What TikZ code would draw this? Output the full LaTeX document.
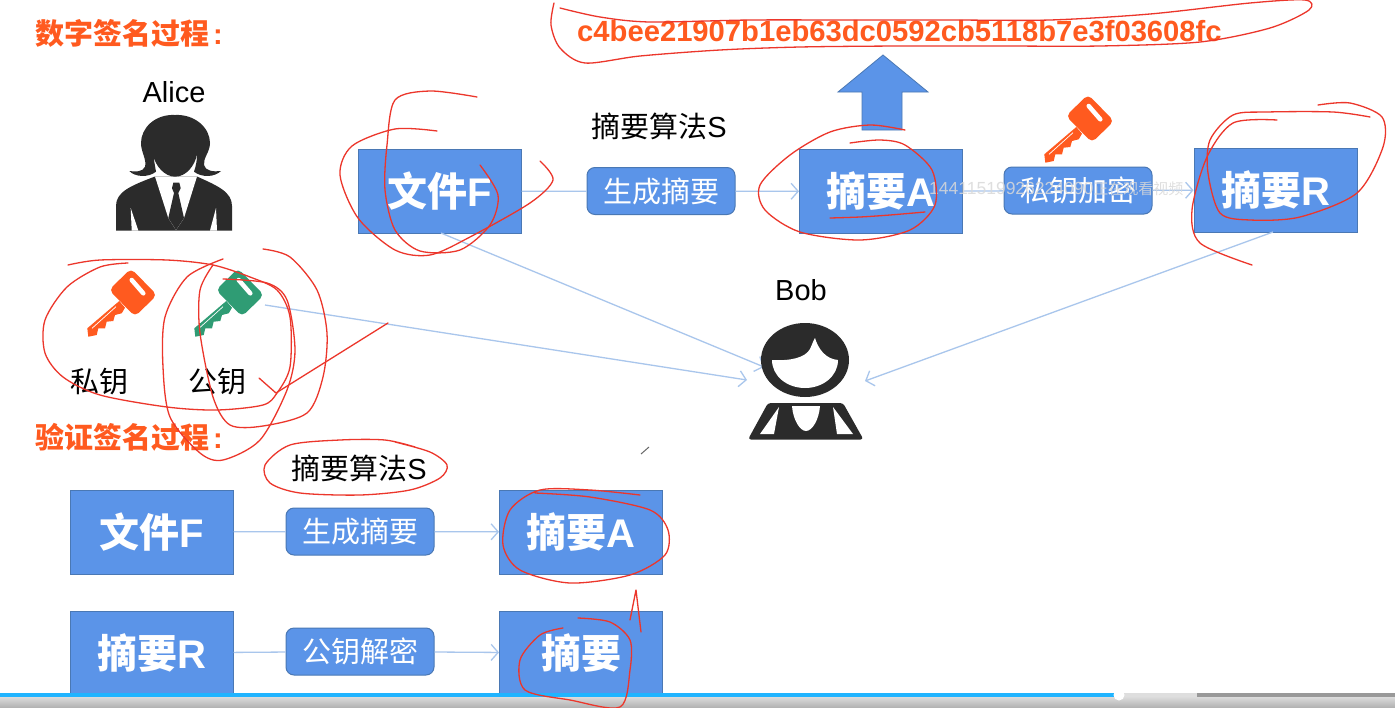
\documentclass[tikz,border=0pt]{standalone}
\usepackage{fontspec}
\setmainfont{Liberation Sans}
\newfontfamily\cjk{Noto Sans CJK SC}
\usetikzlibrary{arrows.meta,shapes.arrows}

\definecolor{boxblue}{HTML}{5B94E8}
\definecolor{boxline}{HTML}{4A78B4}
\definecolor{linkblue}{HTML}{A9C6EC}
\definecolor{titleorange}{HTML}{FF5A1F}
\definecolor{keygreen}{HTML}{2F9C74}
\definecolor{inkred}{HTML}{EC362B}
\definecolor{figure}{HTML}{2B2B2B}
\definecolor{barblue}{HTML}{20B4FF}

\tikzset{
  bigbox/.style={draw=boxline, line width=1pt, fill=boxblue, text=white, minimum width=163pt,
    minimum height=84pt, inner sep=0pt, font=\cjk\bfseries\fontsize{40}{40}\selectfont},
  stepbox/.style={draw=boxline, line width=1pt, fill=boxblue, text=white, rounded corners=8pt,
    minimum width=148pt, minimum height=47pt, inner sep=0pt, font=\cjk\fontsize{29}{29}\selectfont},
  link/.style={draw=linkblue, line width=1.3pt},
  linkarrow/.style={link, -{Straight Barb[length=7pt,width=16pt]}},
  blacklabel/.style={text=black, inner sep=0pt, font=\cjk\fontsize{29}{29}\selectfont},
  title/.style={text=titleorange, inner sep=0pt, anchor=west, font=\cjk\bfseries\fontsize{29}{29}\selectfont},
  ink/.style={draw=inkred, line width=1.3pt, line cap=round, line join=round},
  pics/key/.style={code={
    \fill[#1, rounded corners=5pt] (-2,-24) -- (24,2.5) -- (2,24) -- (-24,-2.5) -- cycle; % head
    \fill[#1] (-13.7,8.5) -- (-45.7,35.8) -- (-44.7,44.2) -- (-36.3,42.5) -- (-34.7,35.8) -- (-28,35.8)
      -- (-26.3,29.2) -- (-19.7,28.5) -- (-18,22.5) -- (-11.3,20.8) -- (-8,15.2) -- cycle; % blade
    \draw[white, line width=4.5pt, line cap=round] (-1.3,-12.5) -- (10.3,.8); % slot
    \draw[white, line width=.7pt] (-41,35.8) -- (-17,14.2); % groove
  }}
}

\begin{document}
\begin{tikzpicture}[x=1pt,y=-1pt]
\useasboundingbox (0,0) rectangle (1395,707);
\fill[white] (0,0) rectangle (1395,707);

\node[title] (signtitle) at (35,33) {数字签名过程\hspace{4pt}\textrm{:}}; % upper title
\node[title] (checktitle) at (35,437) {验证签名过程\hspace{4pt}\textrm{:}}; % lower title
\node[text=titleorange, inner sep=0pt, font=\bfseries\fontsize{29.2}{30}\selectfont] (hash) at (899.5,31)
  {c4bee21907b1eb63dc0592cb5118b7e3f03608fc}; % digest value

\node[inner sep=0pt, font=\fontsize{29}{29}\selectfont] (alice) at (174,92) {Alice};
\node[inner sep=0pt, font=\fontsize{29}{29}\selectfont] (bob) at (801,290) {Bob};
\node[blacklabel] (privatelabel) at (99,382) {私钥};
\node[blacklabel] (publiclabel) at (217,382) {公钥};
\node[blacklabel] (algotop) at (659,126) {摘要算法\textrm{S}};
\node[blacklabel] (algobottom) at (359,468) {摘要算法\textrm{S}};

% upper row
\node[bigbox] (filetop) at (439.5,191.5) {文件\textrm{F}};
\node[stepbox] (maketop) at (661,191) {生成摘要};
\node[bigbox] (digesttop) at (881,191.5) {摘要\textrm{A}};
\node[stepbox] (encrypt) at (1078,190.5) {私钥加密};
\node[bigbox] (result) at (1275.5,190) {摘要\textrm{R}};

% lower rows
\node[bigbox] (filelow) at (151.5,532) {文件\textrm{F}};
\node[stepbox] (makelow) at (360,531.5) {生成摘要};
\node[bigbox] (digestlow) at (581,532) {摘要\textrm{A}};
\node[bigbox] (resultlow) at (151.5,653) {摘要\textrm{R}};
\node[stepbox] (decrypt) at (360,651.5) {公钥解密};
\node[bigbox] (plainlow) at (581,653) {摘要};

\draw[link] (filetop) -- (maketop);
\draw[linkarrow] (maketop) -- (digesttop);
\draw[link] (digesttop) -- (encrypt);
\draw[linkarrow] (encrypt) -- (result);
\draw[link] (filelow) -- (makelow);
\draw[linkarrow] (makelow) -- (digestlow);
\draw[link] (resultlow) -- (decrypt);
\draw[linkarrow] (decrypt) -- (plainlow);

% free ends at Bob and the green key
\coordinate (keyend) at (265,305);
\coordinate (filefoot) at (441,233);
\coordinate (resultfoot) at (1273,232);
\coordinate (bobleft) at (764,367);
\coordinate (bobmid) at (747,380);
\coordinate (bobright) at (865,381);
\draw[linkarrow] (filefoot) -- (bobleft);
\draw[linkarrow] (keyend) -- (bobmid);
\draw[linkarrow] (resultfoot) -- (bobright);

% block arrow over digest A
\draw[boxline, fill=boxblue, line width=.8pt] (883,55) -- (928,92) -- (902,92) -- (902,130)
  -- (862,130) -- (862,92) -- (838,92) -- cycle;

\pic at (133,292.5) {key=titleorange}; % private key
\pic at (240,292.5) {key=keygreen}; % public key
\pic at (1090,118.5) {key=titleorange}; % key over encrypt step

% Alice
\fill[figure] (116,230.5) -- (116,206) .. controls (116,192) and (130,186) .. (155,176.5) -- (197,176.5)
  .. controls (218,186) and (232,192) .. (232,206) -- (232,230.5) -- cycle; % jacket
\fill[white] (130.7,208) -- (131.7,230.5) -- (138.3,230.5) -- cycle; % left sleeve gap
\fill[white] (216,208) -- (217,230.5) -- (210,230.5) -- cycle; % right sleeve gap
\fill[white] (155,176.5) -- (168.3,218) -- (176,230) -- (184,218) -- (197,176.5) -- cycle; % collar
\fill[figure] (175,115) .. controls (155,114) and (141,128) .. (141,143)
  .. controls (141,152) and (147,160) .. (145,166.7) .. controls (143,172) and (135,172) .. (129.3,171)
  .. controls (135,177) and (148,178) .. (156,171.7) .. controls (155,166) and (154,160) .. (153.3,155)
  .. controls (155,166) and (165,176.7) .. (175,176.7) .. controls (186,176.7) and (195,166) .. (197.3,153.3)
  .. controls (197,160) and (196,166) .. (194,171.7) .. controls (202,178) and (215,177) .. (221,171)
  .. controls (214,172) and (205,171) .. (204,165) .. controls (203,158) and (210,152) .. (210,143)
  .. controls (210,128) and (195,114) .. (175,115) -- cycle; % hair and face
\fill[figure] (173.3,182.7) -- (179.3,182.7) -- (180.7,188.3) -- (178.3,193) -- (184,218) -- (176,230)
  -- (168.3,218) -- (174,193) -- (172,188.3) -- cycle; % tie

% Bob
\fill[figure] (805,360) ellipse (44pt and 37pt); % head
\fill[white] (772,360) .. controls (790,361) and (805,358) .. (810,349) .. controls (812,345) and (813,341) .. (815,338)
  .. controls (818,348) and (825,359) .. (838,360) .. controls (838,376) and (823,388) .. (805,388)
  .. controls (787,388) and (772,376) .. (772,360) -- cycle; % face
\fill[figure, rounded corners=3pt] (748,439.5) -- (768,403) -- (843,403) -- (863.5,439.5) -- cycle; % body
\fill[white] (779,407) -- (760,434) -- (774,434) -- cycle; % left sleeve
\fill[white] (833,407) -- (837,434) -- (853,434) -- cycle; % right sleeve
\fill[white] (792,406) -- (820,406) .. controls (819,420) and (812,431) .. (806,431)
  .. controls (800,431) and (793,420) .. (792,406) -- cycle; % neck

\node[text=white!85!black, opacity=.85, inner sep=0pt, anchor=west, font=\fontsize{17.5}{18}\selectfont] (mark) at (929,189)
  {14411519926224090{\cjk\fontsize{15}{15}\selectfont 正在观看视频}}; % watermark

% player bar
\shade[top color=black!14, bottom color=black!30] (0,697) rectangle (1395,707);
\fill[barblue] (0,692.5) rectangle (1114,697);
\fill[black!13] (1114,692.5) rectangle (1197,697);
\fill[black!40] (1197,692.5) rectangle (1395,697);
\fill[white] (1119,695) circle (5.5pt);

% red pen marks
\draw[ink] plot[smooth] coordinates {(554,3) (551,25) (560,48) (585,63) (640,56) (720,50) (800,47) (900,46) (1000,46) (1100,46) (1200,42) (1270,28) (1309,10) (1305,0) (1250,3) (1150,14) (1050,20) (950,20) (850,20) (750,20) (650,22) (600,17) (560,8)};
\draw[ink] plot[smooth] coordinates {(437,131) (395,129) (352,146) (340,175) (358,218) (395,250) (430,255) (470,237) (530,203) (553,180) (540,161)};
\draw[ink] plot[smooth] coordinates {(477,97) (430,91) (395,100) (387,145) (385,190) (395,230) (420,251) (460,250) (490,225) (498,195) (480,165)};
\draw[ink] plot[smooth] coordinates {(905,130) (870,125) (830,132) (790,155) (760,185) (765,210) (800,232) (860,240) (910,230) (935,205) (932,170) (905,145) (880,140) (850,143)};
\draw[ink] plot[smooth] coordinates {(830,218) (860,217) (890,215) (925,212)};
\draw[ink] plot[smooth] coordinates {(1277,120) (1233,123) (1207,157) (1192,210) (1200,243) (1252,265)};
\draw[ink] plot[smooth] coordinates {(1370,117) (1333,112) (1267,112) (1233,115) (1210,140) (1208,173) (1220,213) (1250,220) (1300,217) (1357,193) (1383,147) (1382,117) (1350,103) (1318,105)};
\draw[ink] plot[smooth] coordinates {(68,265) (100,260) (167,260) (213,265) (250,277) (277,290) (290,317) (290,367) (277,393) (263,405) (217,410) (167,407) (100,395) (63,377) (45,353) (45,320) (67,287) (100,267) (128,263)};
\draw[ink] plot[smooth] coordinates {(223,259) (187,277) (165,317) (163,367) (170,417) (200,453) (223,460) (260,440) (287,390) (295,350) (287,300) (267,283) (223,279)};
\draw[ink] plot[smooth] coordinates {(263,249) (290,257) (317,290) (327,333) (323,377) (307,413) (263,426) (230,425) (213,397) (200,333) (200,290) (213,265)};
\draw[ink] (259,378) -- (276,393) -- (388,323);
\draw[ink] plot[smooth] coordinates {(415,447) (385,440) (340,440) (290,445) (265,465) (270,483) (300,493) (360,495) (410,490) (440,478) (447,465) (430,452) (395,442)};
\draw[ink] plot[smooth] coordinates {(640,495) (590,490) (540,490) (510,510) (503,545) (520,570) (570,583) (630,575) (665,555) (668,530) (650,510) (590,497) (535,493)};
\draw[ink] plot[smooth] coordinates {(563,628) (540,635) (520,660) (525,690) (570,700) (620,707) (630,670) (630,640) (610,622) (578,618)};
\draw[ink] (630,620) -- (636,590) -- (641,632);
\draw[black!60, line width=1pt] (641,454) -- (649,447); % pen cursor
\end{tikzpicture}
\end{document}
